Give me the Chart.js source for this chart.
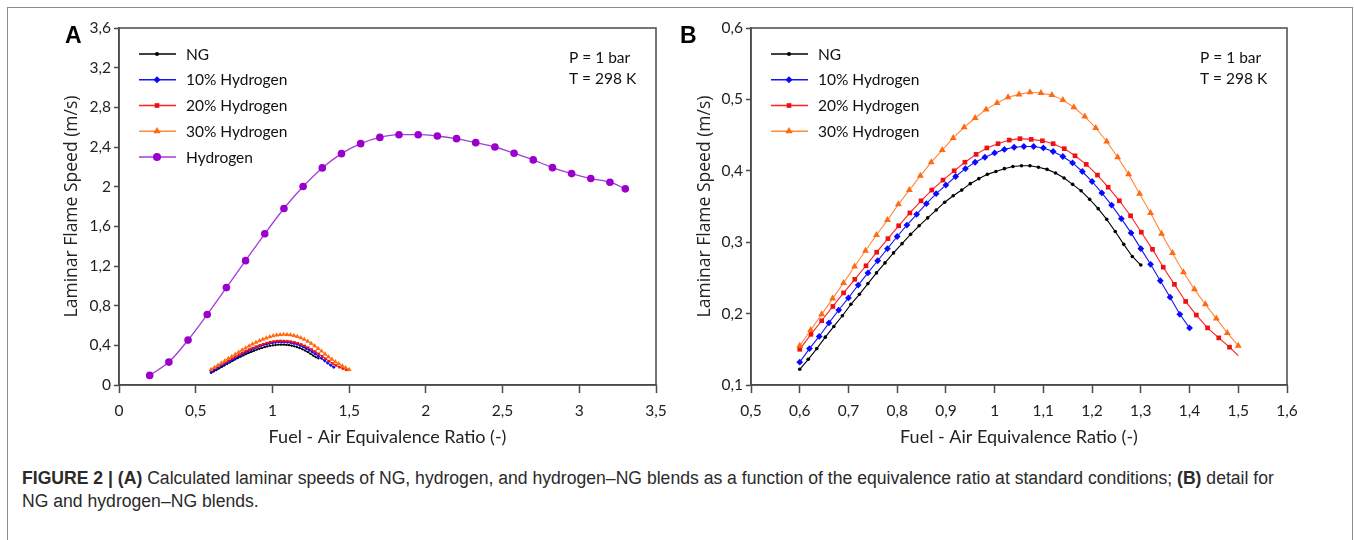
<!DOCTYPE html>
<html><head><meta charset="utf-8">
<script src="https://cdn.jsdelivr.net/npm/chart.js@4.4.1/dist/chart.umd.min.js"></script>
<style>
html,body{margin:0;padding:0;background:#fff;}
body{width:1354px;height:540px;position:relative;overflow:hidden;}
#frame{position:absolute;left:7px;top:7px;width:1346px;height:600px;border:1px solid #8c8c8c;box-sizing:border-box;}
canvas{position:absolute;top:0;}
#ca{left:0;}
#cb{left:680px;}
.panel{position:absolute;top:24px;font-family:"Liberation Sans",Arial,sans-serif;font-weight:bold;font-size:23px;line-height:1;color:#000;}
#caption{position:absolute;left:22px;top:467px;font-family:"Liberation Sans",Arial,sans-serif;font-size:17.6px;line-height:23px;color:#2a2a2a;white-space:nowrap;}
</style></head>
<body>
<div id="frame"></div>
<canvas id="ca" width="680" height="460"></canvas>
<canvas id="cb" width="674" height="460"></canvas>
<div class="panel" style="left:65px">A</div>
<div class="panel" style="left:680px">B</div>
<div id="caption"><b>FIGURE 2 | (A)</b> Calculated laminar speeds of NG, hydrogen, and hydrogen–NG blends as a function of the equivalence ratio at standard conditions; <b>(B)</b> detail for<br>NG and hydrogen–NG blends.</div>
<script>
// ---------- DATA ----------
const SERIES_LABELS = ['NG', '10% Hydrogen', '20% Hydrogen', '30% Hydrogen', 'Hydrogen'];

const NG_X = [0.6, 0.6175, 0.635, 0.6525, 0.67, 0.6875, 0.705, 0.7225, 0.74, 0.7575, 0.775, 0.7925, 0.81, 0.8275, 0.845, 0.8625, 0.88, 0.8975, 0.915, 0.9325, 0.95, 0.9675, 0.985, 1.0025, 1.02, 1.0375, 1.055, 1.0725, 1.09, 1.1075, 1.125, 1.1425, 1.16, 1.1775, 1.195, 1.2125, 1.23, 1.2475, 1.265, 1.2825, 1.3];
const NG_Y = [0.122, 0.136, 0.151, 0.167, 0.182, 0.197, 0.213, 0.227, 0.242, 0.257, 0.271, 0.285, 0.298, 0.311, 0.323, 0.334, 0.345, 0.356, 0.365, 0.373, 0.382, 0.389, 0.395, 0.399, 0.403, 0.406, 0.407, 0.407, 0.405, 0.402, 0.397, 0.390, 0.381, 0.372, 0.360, 0.347, 0.332, 0.315, 0.297, 0.280, 0.268];

const H10_X = [0.60, 0.62, 0.64, 0.66, 0.68, 0.70, 0.72, 0.74, 0.76, 0.78, 0.80, 0.82, 0.84, 0.86, 0.88, 0.90, 0.92, 0.94, 0.96, 0.98, 1.00, 1.02, 1.04, 1.06, 1.08, 1.10, 1.12, 1.14, 1.16, 1.18, 1.20, 1.22, 1.24, 1.26, 1.28, 1.30, 1.32, 1.34, 1.36, 1.38, 1.40];
const H10_Y = [0.132, 0.151, 0.168, 0.187, 0.205, 0.222, 0.240, 0.257, 0.274, 0.291, 0.308, 0.324, 0.339, 0.354, 0.368, 0.380, 0.392, 0.403, 0.412, 0.419, 0.425, 0.430, 0.433, 0.434, 0.434, 0.432, 0.427, 0.420, 0.411, 0.399, 0.385, 0.369, 0.352, 0.333, 0.313, 0.291, 0.269, 0.246, 0.223, 0.199, 0.180];

const H20_X = [0.600, 0.623, 0.645, 0.668, 0.690, 0.713, 0.736, 0.758, 0.781, 0.803, 0.826, 0.849, 0.871, 0.894, 0.917, 0.939, 0.962, 0.984, 1.007, 1.030, 1.052, 1.075, 1.098, 1.120, 1.143, 1.165, 1.188, 1.211, 1.233, 1.256, 1.279, 1.301, 1.324, 1.346, 1.369, 1.392, 1.414, 1.437, 1.460, 1.482, 1.500];
const H20_Y = [0.150, 0.171, 0.190, 0.210, 0.229, 0.248, 0.267, 0.286, 0.305, 0.323, 0.341, 0.358, 0.373, 0.387, 0.400, 0.412, 0.423, 0.432, 0.438, 0.443, 0.445, 0.444, 0.442, 0.438, 0.431, 0.421, 0.409, 0.394, 0.377, 0.358, 0.337, 0.314, 0.290, 0.265, 0.241, 0.217, 0.198, 0.180, 0.166, 0.153, 0.141];

const H30_X = [0.6, 0.6225, 0.645, 0.6675, 0.69, 0.7125, 0.735, 0.7575, 0.78, 0.8025, 0.825, 0.8475, 0.87, 0.8925, 0.915, 0.9375, 0.96, 0.9825, 1.005, 1.0275, 1.05, 1.0725, 1.095, 1.1175, 1.14, 1.1625, 1.185, 1.2075, 1.23, 1.2525, 1.275, 1.2975, 1.32, 1.3425, 1.365, 1.3875, 1.41, 1.4325, 1.455, 1.4775, 1.5];
const H30_Y = [0.155, 0.177, 0.199, 0.221, 0.243, 0.266, 0.288, 0.310, 0.331, 0.353, 0.373, 0.393, 0.412, 0.429, 0.446, 0.461, 0.474, 0.486, 0.495, 0.503, 0.507, 0.510, 0.509, 0.506, 0.499, 0.489, 0.476, 0.460, 0.441, 0.419, 0.395, 0.368, 0.341, 0.312, 0.285, 0.258, 0.234, 0.213, 0.193, 0.173, 0.155];

const H2_X = [0.2, 0.325, 0.45, 0.575, 0.7, 0.825, 0.95, 1.075, 1.2, 1.325, 1.45, 1.575, 1.7, 1.825, 1.95, 2.075, 2.2, 2.325, 2.45, 2.575, 2.7, 2.825, 2.95, 3.075, 3.2, 3.3];
const H2_Y = [0.097, 0.231, 0.453, 0.711, 0.982, 1.254, 1.525, 1.780, 2.001, 2.189, 2.333, 2.434, 2.497, 2.524, 2.524, 2.511, 2.484, 2.444, 2.400, 2.337, 2.270, 2.192, 2.132, 2.082, 2.045, 1.978];

const A_X_TICKS = [0, 0.5, 1, 1.5, 2, 2.5, 3, 3.5];
const A_X_LABELS = ['0', '0,5', '1', '1,5', '2', '2,5', '3', '3,5'];
const A_Y_TICKS = [0, 0.4, 0.8, 1.2, 1.6, 2, 2.4, 2.8, 3.2, 3.6];
const A_Y_LABELS = ['0', '0,4', '0,8', '1,2', '1,6', '2', '2,4', '2,8', '3,2', '3,6'];
const B_X_TICKS = [0.5, 0.6, 0.7, 0.8, 0.9, 1, 1.1, 1.2, 1.3, 1.4, 1.5, 1.6];
const B_X_LABELS = ['0,5', '0,6', '0,7', '0,8', '0,9', '1', '1,1', '1,2', '1,3', '1,4', '1,5', '1,6'];
const B_Y_TICKS = [0.1, 0.2, 0.3, 0.4, 0.5, 0.6];
const B_Y_LABELS = ['0,1', '0,2', '0,3', '0,4', '0,5', '0,6'];

const CONDITIONS = ['P = 1 bar', 'T = 298 K'];
const X_TITLE = 'Fuel - Air Equivalence Ratio (-)';
const Y_TITLE = 'Laminar Flame Speed (m/s)';

// ---------- STYLE ----------
const AXIS_COL = '#4a4a4a';
const STYLES = [
  {line: '#000000', fill: '#000000', shape: 'circle',   rB: 1.8, rA: 1.1, lr: 2.0},
  {line: '#1414ff', fill: '#0a0aff', shape: 'rectRot',  rB: 3.4, rA: 1.8, lr: 3.6},
  {line: '#ff1f1f', fill: '#f01010', shape: 'rect',     rB: 3.3, rA: 1.8, lr: 3.3},
  {line: '#ff8a3d', fill: '#ff6a12', shape: 'triangle', rB: 4.0, rA: 2.8, lr: 4.2},
  {line: '#a43cd6', fill: '#9a00cc', shape: 'circle',   rB: 3.8, rA: 3.8, lr: 4.0}
];

const pts = (xs, ys) => xs.map((x, i) => ({x: x, y: ys[i]}));

function makeDataset(i, xs, ys, panel, extra) {
  const s = STYLES[i];
  const r = panel === 'A' ? s.rA : s.rB;
  return Object.assign({
    label: SERIES_LABELS[i],
    data: pts(xs, ys),
    showLine: true,
    borderColor: s.line,
    backgroundColor: s.fill,
    pointBackgroundColor: s.fill,
    pointBorderColor: s.fill,
    pointBorderWidth: 0,
    pointStyle: s.shape,
    pointRadius: r,
    pointHoverRadius: r,
    borderWidth: 1.1,
    tension: 0,
    fill: false,
    order: 5 - i,
    legendRadius: s.lr
  }, extra || {});
}

function lastNoMarker(xs, r) {
  return ctx => ctx.dataIndex === xs.length - 1 ? 0 : r;
}

const insidePlugin = {
  id: 'inside',
  beforeDatasetsDraw(chart) {
    const {ctx, chartArea: a} = chart;
    ctx.save();
    ctx.strokeStyle = AXIS_COL;
    ctx.lineWidth = 1.5;
    ctx.strokeRect(a.left, a.top, a.right - a.left, a.bottom - a.top);
    ctx.restore();
  },
  afterDraw(chart) {
    const {ctx, chartArea: a} = chart;
    ctx.save();
    chart.data.datasets.forEach((ds, i) => {
      const y = a.top + 26 + i * 25.75;
      ctx.strokeStyle = ds.borderColor;
      ctx.lineWidth = 1.3;
      ctx.beginPath();
      ctx.moveTo(a.left + 20, y);
      ctx.lineTo(a.left + 57, y);
      ctx.stroke();
      ctx.fillStyle = ds.pointBackgroundColor;
      Chart.helpers.drawPoint(ctx, {pointStyle: ds.pointStyle, radius: ds.legendRadius, rotation: 0, borderWidth: 0}, a.left + 38, y);
      ctx.fillStyle = '#111';
      ctx.font = '15.5px Lato';
      ctx.textBaseline = 'middle';
      ctx.textAlign = 'left';
      ctx.fillText(ds.label, a.left + 67, y + 0.5);
    });
    ctx.fillStyle = '#111';
    ctx.font = '15.5px Lato';
    ctx.textBaseline = 'middle';
    ctx.textAlign = 'left';
    CONDITIONS.forEach((t, k) => ctx.fillText(t, a.right - 87, a.top + 30 + k * 21));
    ctx.restore();
  }
};

function makeOptions(xTicks, xLabels, yTicks, yLabels, yWidth, yTitlePad, rightPad) {
  return {
    responsive: false,
    animation: false,
    events: [],
    layout: {padding: {left: 0, top: 28, right: rightPad, bottom: 0}},
    plugins: {legend: {display: false}, tooltip: {enabled: false}},
    scales: {
      x: {
        type: 'linear',
        min: xTicks[0], max: xTicks[xTicks.length - 1],
        afterBuildTicks: s => { s.ticks = xTicks.map(v => ({value: v})); },
        afterFit: s => { s.height = 75; },
        ticks: {
          autoSkip: false, maxRotation: 0,
          callback: (v, i) => xLabels[i],
          font: {family: 'Lato', size: 15.5}, color: '#222', padding: 9
        },
        grid: {display: true, drawOnChartArea: false, drawTicks: true, tickLength: 8, tickColor: AXIS_COL, tickWidth: 1.5},
        border: {display: true, color: AXIS_COL, width: 1.5},
        title: {display: true, text: X_TITLE, font: {family: 'Lato', size: 18}, color: '#222', padding: {top: 0, bottom: 12}}
      },
      y: {
        type: 'linear',
        min: yTicks[0], max: yTicks[yTicks.length - 1],
        afterBuildTicks: s => { s.ticks = yTicks.map(v => ({value: v})); },
        afterFit: s => { s.width = yWidth; },
        ticks: {
          autoSkip: false,
          callback: (v, i) => yLabels[i],
          font: {family: 'Lato', size: 15.5}, color: '#222', padding: 3
        },
        grid: {display: true, drawOnChartArea: false, drawTicks: true, tickLength: 5, tickColor: AXIS_COL, tickWidth: 1.5},
        border: {display: true, color: AXIS_COL, width: 1.5},
        title: {display: true, text: Y_TITLE, font: {family: 'Open Sans', size: 17.5}, color: '#222', padding: {top: yTitlePad, bottom: 0}}
      }
    }
  };
}

new Chart(document.getElementById('ca'), {
  type: 'scatter',
  data: {
    datasets: [
      makeDataset(0, NG_X, NG_Y, 'A'),
      makeDataset(1, H10_X, H10_Y, 'A'),
      makeDataset(2, H20_X, H20_Y, 'A', {pointRadius: lastNoMarker(H20_X, STYLES[2].rA)}),
      makeDataset(3, H30_X, H30_Y, 'A'),
      makeDataset(4, H2_X, H2_Y, 'A', {cubicInterpolationMode: 'monotone', borderWidth: 1.3})
    ]
  },
  options: makeOptions(A_X_TICKS, A_X_LABELS, A_Y_TICKS, A_Y_LABELS, 119, 62, 24),
  plugins: [insidePlugin]
});

new Chart(document.getElementById('cb'), {
  type: 'scatter',
  data: {
    datasets: [
      makeDataset(0, NG_X, NG_Y, 'B'),
      makeDataset(1, H10_X, H10_Y, 'B'),
      makeDataset(2, H20_X, H20_Y, 'B', {pointRadius: lastNoMarker(H20_X, STYLES[2].rB)}),
      makeDataset(3, H30_X, H30_Y, 'B')
    ]
  },
  options: makeOptions(B_X_TICKS, B_X_LABELS, B_Y_TICKS, B_Y_LABELS, 71, 15, 67),
  plugins: [insidePlugin]
});
</script>
</body></html>
